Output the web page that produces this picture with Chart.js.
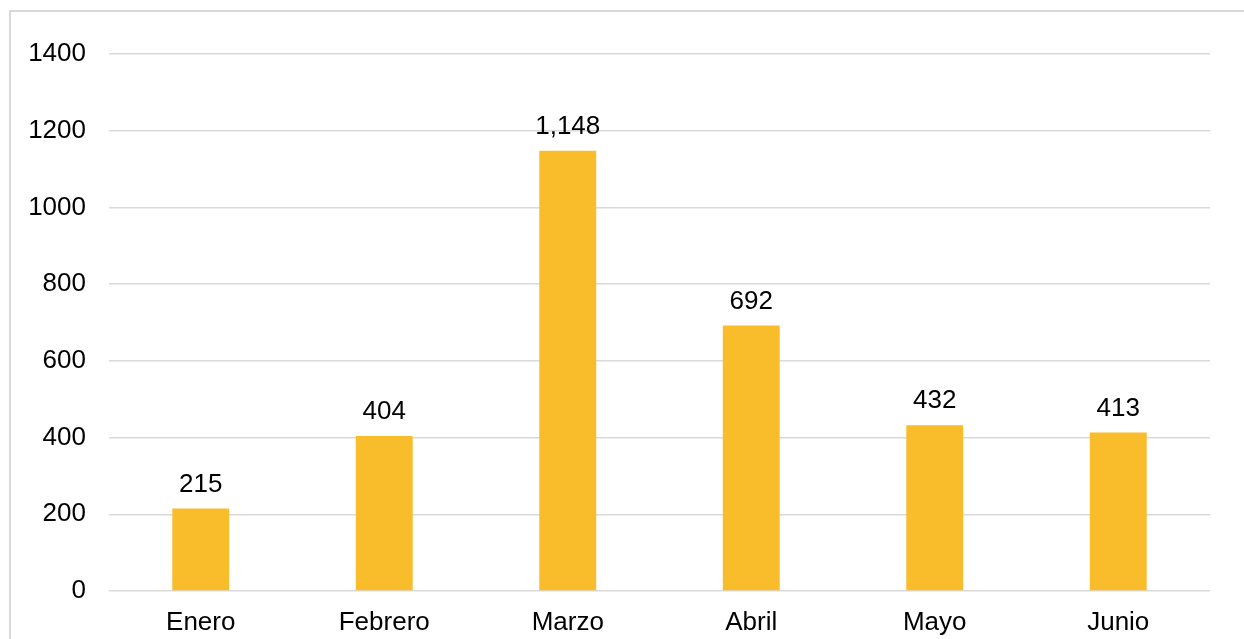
<!DOCTYPE html>
<html>
<head>
<meta charset="utf-8">
<script src="https://cdn.jsdelivr.net/npm/chart.js@4.4.0/dist/chart.umd.min.js"></script>
<style>
  html, body { margin: 0; padding: 0; background: #fff; overflow: hidden; }
  #frame { position: absolute; left: 9px; top: 10px; width: 1400px; height: 800px; border: 2px solid #d9d9d9; box-sizing: border-box; }
  #wrap { position: absolute; left: 0; top: 0; width: 1244px; height: 639px; }
</style>
</head>
<body>
<div id="frame"></div>
<div id="wrap"><canvas id="c" width="1244" height="639"></canvas></div>
<script>
const categories = ["Enero", "Febrero", "Marzo", "Abril", "Mayo", "Junio"];
const values = [215, 404, 1148, 692, 432, 413];
const yTicks = [0, 200, 400, 600, 800, 1000, 1200, 1400];

const FONT = '"Liberation Sans", Arial, sans-serif';
const FS = 26;

const valueLabels = {
  id: 'valueLabels',
  afterDatasetsDraw(chart) {
    const ctx = chart.ctx;
    const meta = chart.getDatasetMeta(0);
    ctx.save();
    ctx.font = FS + 'px ' + FONT;
    ctx.fillStyle = '#000';
    ctx.textAlign = 'center';
    ctx.textBaseline = 'alphabetic';
    meta.data.forEach((bar, i) => {
      ctx.fillText(values[i].toLocaleString('en-US'), bar.x, bar.y - 17);
    });
    ctx.restore();
  }
};

new Chart(document.getElementById('c'), {
  type: 'bar',
  data: {
    labels: categories,
    datasets: [{
      data: values,
      backgroundColor: '#F9BC2B',
      borderWidth: 0,
      categoryPercentage: 1,
      barPercentage: 0.31
    }]
  },
  options: {
    responsive: false,
    animation: false,
    devicePixelRatio: 1,
    layout: { padding: { left: 0, right: 34, top: 54, bottom: 0 } },
    plugins: { legend: { display: false }, tooltip: { enabled: false } },
    scales: {
      x: {
        grid: { display: false, drawTicks: false },
        border: { display: false },
        ticks: { color: '#000', font: { family: FONT, size: FS }, padding: 16, maxRotation: 0 },
        afterFit(scale) { scale.height = 48; }
      },
      y: {
        min: 0, max: 1400,
        afterBuildTicks(scale) { scale.ticks = yTicks.map(v => ({ value: v })); },
        grid: { color: '#d9d9d9', lineWidth: 1.5, drawTicks: false },
        border: { display: false },
        ticks: { color: '#000', font: { family: FONT, size: FS }, padding: 23, callback: v => String(v) },
        afterFit(scale) { scale.width = 109; }
      }
    }
  },
  plugins: [valueLabels]
});
</script>
</body>
</html>
